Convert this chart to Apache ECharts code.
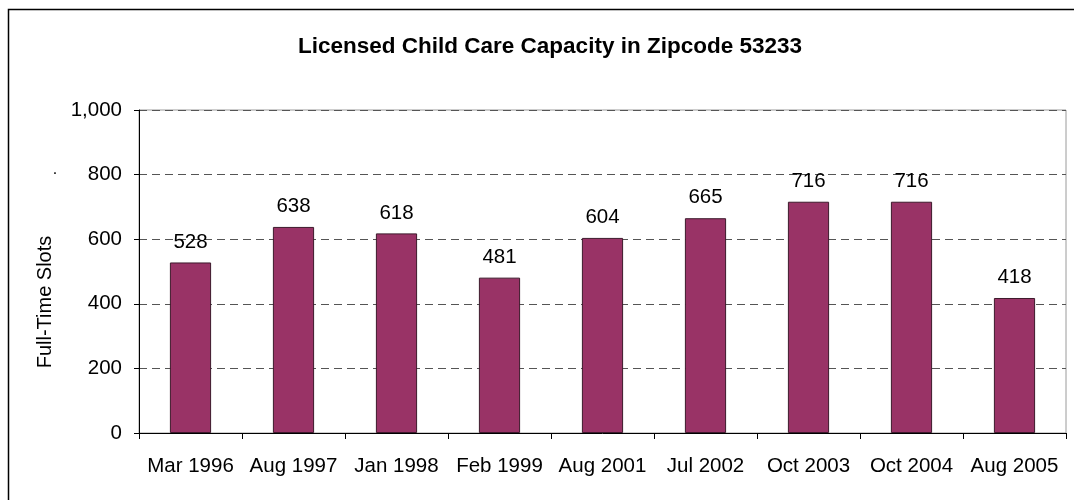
<!DOCTYPE html>
<html>
<head>
<meta charset="utf-8">
<script src="https://cdn.jsdelivr.net/npm/echarts@6/dist/echarts.min.js"></script>
<style>
html,body{margin:0;padding:0;background:#fff;}
#chart{width:1074px;height:500px;}
</style>
</head>
<body>
<div id="chart"></div>
<script>
const categories = ['Mar 1996','Aug 1997','Jan 1998','Feb 1999','Aug 2001','Jul 2002','Oct 2003','Oct 2004','Aug 2005'];
const capacity = [528, 638, 618, 481, 604, 665, 716, 716, 418];
const yTicks = [0, 200, 400, 600, 800, 1000];

const FONT = '"Liberation Sans", Arial, sans-serif';
const chart = echarts.init(document.getElementById('chart'), null, {renderer: 'canvas'});
chart.setOption({
  animation: false,
  backgroundColor: '#fff',
  title: {
    text: 'Licensed Child Care Capacity in Zipcode 53233',
    left: 545, top: 30, textAlign: 'center',
    textStyle: {fontFamily: FONT, fontSize: 22.5, fontWeight: 'bold', color: '#000'}
  },
  graphic: [
    {type: 'rect', shape: {x: 8.5, y: 9.5, width: 1090, height: 520}, style: {fill: 'none', stroke: '#000', lineWidth: 1.5}, silent: true},
    {type: 'text', x: 45, y: 302, rotation: Math.PI / 2,
      style: {text: 'Full-Time Slots', fontFamily: FONT, fontSize: 20, fill: '#000', align: 'center', verticalAlign: 'middle'}},
    {type: 'text', x: 55, y: 170,
      style: {text: '.', fontFamily: FONT, fontSize: 16, fill: '#000', align: 'center', verticalAlign: 'middle'}}
  ],
  grid: {left: 139, right: 8, top: 110, bottom: 67, show: true, borderColor: '#9a9a9a', borderWidth: 1},
  xAxis: {
    type: 'category',
    data: categories,
    axisLine: {lineStyle: {color: '#000', width: 1}},
    axisTick: {show: true, length: 6, lineStyle: {color: '#000'}},
    axisLabel: {fontFamily: FONT, fontSize: 20.5, color: '#000', margin: 23, interval: 0},
    splitLine: {show: false}
  },
  yAxis: {
    type: 'value',
    min: yTicks[0], max: yTicks[yTicks.length - 1], interval: 200,
    axisLine: {show: true, lineStyle: {color: '#000', width: 1}},
    axisTick: {show: true, length: 5, lineStyle: {color: '#000'}},
    axisLabel: {fontFamily: FONT, fontSize: 20.5, color: '#000', margin: 17,
      formatter: v => v.toLocaleString('en-US')},
    splitLine: {show: true, lineStyle: {color: '#555', type: [8, 5], width: 1}}
  },
  series: [{
    type: 'bar',
    data: capacity,
    barWidth: '40%',
    itemStyle: {color: '#993366', borderColor: '#3d1a2c', borderWidth: 1},
    label: {show: true, position: 'top', distance: 10, fontFamily: FONT, fontSize: 20.5, color: '#000'}
  }]
});
</script>
</body>
</html>
